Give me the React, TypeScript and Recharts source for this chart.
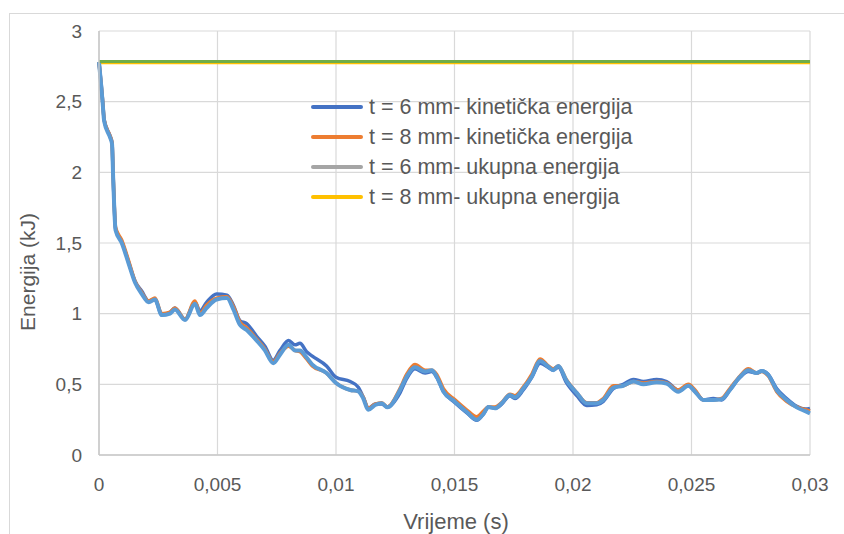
import { LineChart, Line, XAxis, YAxis, CartesianGrid, Label } from "recharts";

// Time (s)
const T = [
  0, 0.0001, 0.00015, 0.00022, 0.00046, 0.00055, 0.0006, 0.0007, 0.00096, 0.00124,
  0.00152, 0.0018, 0.0021, 0.00236, 0.00265, 0.003, 0.0032, 0.00363, 0.00405, 0.00426,
  0.00454, 0.00496, 0.0054, 0.00567, 0.00595, 0.00623, 0.00665, 0.007, 0.00735, 0.00764,
  0.008, 0.00827, 0.00848, 0.00876, 0.009, 0.0096, 0.01, 0.0106, 0.01094, 0.01115,
  0.01136, 0.01165, 0.01193, 0.01217, 0.0127, 0.01298, 0.01333, 0.01376, 0.01404, 0.01425,
  0.01453, 0.01502, 0.01551, 0.01594, 0.01622, 0.01643, 0.01671, 0.01699, 0.01734, 0.01755,
  0.0179, 0.01826, 0.01861, 0.01896, 0.01917, 0.01938, 0.01973, 0.02016, 0.02058, 0.021,
  0.02128, 0.0217, 0.02212, 0.02255, 0.02297, 0.02353, 0.02395, 0.02444, 0.02487, 0.02515,
  0.0255, 0.02592, 0.02627, 0.02662, 0.02705, 0.0274, 0.02775, 0.02796, 0.02824, 0.02859,
  0.02901, 0.02944, 0.0298, 0.03,
];

// t = 6 mm - kinetic energy (kJ)
const K6 = [
  2.78, 2.61, 2.51, 2.37, 2.26, 2.21, 1.96, 1.6, 1.51, 1.37,
  1.23, 1.16, 1.09, 1.1, 0.99, 1.01, 1.04, 0.96, 1.08, 1.02,
  1.08, 1.14, 1.13, 1.06, 0.95, 0.93, 0.84, 0.77, 0.67, 0.74,
  0.81, 0.78, 0.79, 0.73, 0.7, 0.63, 0.55, 0.52, 0.48, 0.41,
  0.33, 0.36, 0.36, 0.34, 0.44, 0.54, 0.61, 0.58, 0.59, 0.55,
  0.45, 0.37, 0.3, 0.245, 0.29, 0.34, 0.33, 0.36, 0.42, 0.4,
  0.46, 0.55, 0.65, 0.62, 0.6, 0.62, 0.51, 0.42, 0.35, 0.355,
  0.38, 0.47, 0.5, 0.535, 0.52, 0.535, 0.52, 0.46, 0.49, 0.45,
  0.39, 0.4, 0.39, 0.46, 0.55, 0.59, 0.58, 0.595, 0.57, 0.47,
  0.4, 0.345, 0.325, 0.33,
];

// t = 8 mm - kinetic energy (kJ)
const K8 = [
  2.78, 2.6, 2.51, 2.37, 2.26, 2.21, 1.97, 1.61, 1.52, 1.38,
  1.23, 1.15, 1.09, 1.11, 1.0, 1.01, 1.04, 0.96, 1.09, 1.0,
  1.06, 1.11, 1.12, 1.05, 0.94, 0.9, 0.82, 0.75, 0.66, 0.72,
  0.77, 0.74, 0.73, 0.68, 0.63, 0.58, 0.51, 0.46, 0.45, 0.41,
  0.33, 0.36, 0.37, 0.34, 0.47, 0.57, 0.64, 0.6, 0.6, 0.57,
  0.47, 0.39, 0.32, 0.27, 0.31, 0.34, 0.34, 0.37, 0.43, 0.42,
  0.48, 0.57, 0.68, 0.63, 0.61, 0.63, 0.53, 0.44, 0.37, 0.37,
  0.4, 0.49, 0.49, 0.52, 0.51, 0.52, 0.51, 0.46, 0.5, 0.46,
  0.39, 0.39, 0.4, 0.47, 0.56, 0.61, 0.58, 0.59, 0.56, 0.45,
  0.38, 0.34, 0.32, 0.31,
];

// unlabelled kinetic series (light blue)
const K6B = [
  2.78, 2.6, 2.5, 2.36, 2.25, 2.2, 1.95, 1.59, 1.5, 1.36,
  1.22, 1.14, 1.08, 1.1, 0.99, 1.0, 1.03, 0.955, 1.07, 0.99,
  1.04, 1.1, 1.11, 1.03, 0.92, 0.885, 0.81, 0.74, 0.65, 0.71,
  0.78, 0.74, 0.74, 0.69, 0.64, 0.58, 0.51, 0.46, 0.45, 0.4,
  0.32, 0.354, 0.366, 0.337, 0.46, 0.554, 0.62, 0.59, 0.6, 0.554,
  0.45, 0.377, 0.306, 0.25, 0.29, 0.34, 0.33, 0.366, 0.425, 0.408,
  0.47, 0.554, 0.665, 0.625, 0.6, 0.63, 0.525, 0.44, 0.366, 0.366,
  0.39, 0.475, 0.49, 0.52, 0.5, 0.515, 0.505, 0.448, 0.49, 0.448,
  0.39, 0.39, 0.394, 0.46, 0.554, 0.6, 0.58, 0.595, 0.566, 0.46,
  0.39, 0.337, 0.31, 0.295,
];

// total energy (flat)
const TOT_T = [0, 0.03];
const TOT6 = [2.78, 2.78];
const TOT8 = [2.775, 2.775];
const TOTB = [2.785, 2.785];

const X_TICKS = [0, 0.005, 0.01, 0.015, 0.02, 0.025, 0.03];
const Y_TICKS = [0, 0.5, 1, 1.5, 2, 2.5, 3];

const LEGEND = [
  { label: "t = 6 mm- kinetička energija", color: "#4472c4" },
  { label: "t = 8 mm- kinetička energija", color: "#ed7d31" },
  { label: "t = 6 mm- ukupna energija", color: "#a5a5a5" },
  { label: "t = 8 mm- ukupna energija", color: "#ffc000" },
];

const TEXT = "#595959";
const FONT = '"Liberation Sans", Arial, sans-serif';

const fmt = (v: number) => String(v).replace(".", ",");

export default function App() {
  const data = T.map((t, i) => ({ t, k6: K6[i], k8: K8[i], k6b: K6B[i] }));
  const totals = TOT_T.map((t, i) => ({ t, tot6: TOT6[i], tot8: TOT8[i], totb: TOTB[i] }));

  return (
    <div
      style={{
        position: "fixed",
        left: 0,
        top: 0,
        width: 844,
        height: 534,
        overflow: "hidden",
        background: "#fff",
        fontFamily: FONT,
      }}
    >
      {/* chart frame, runs off the page on the right and bottom */}
      <div
        style={{
          position: "absolute",
          left: 9,
          top: 13,
          width: 1000,
          height: 1000,
          border: "1px solid #d9d9d9",
        }}
      />
      <div style={{ position: "absolute", left: 0, top: 0 }}>
        <LineChart width={844} height={534} margin={{ top: 31, right: 34, bottom: 0, left: 0 }}>
          <CartesianGrid stroke="#d9d9d9" strokeWidth={1.2} />
          <XAxis
            dataKey="t"
            type="number"
            domain={[0, 0.03]}
            ticks={X_TICKS}
            tickFormatter={fmt}
            height={79}
            tickSize={0}
            tickMargin={23}
            tickLine={false}
            axisLine={{ stroke: "#c8c8c8", strokeWidth: 1.5 }}
            tick={{ fill: TEXT, fontSize: 19, fontFamily: FONT }}
            allowDuplicatedCategory={false}
          >
            <Label
              content={() => (
                <text x={456} y={521} textAnchor="middle" dominantBaseline="central" fill={TEXT} fontSize={22} fontFamily={FONT}>
                  Vrijeme (s)
                </text>
              )}
            />
          </XAxis>
          <YAxis
            type="number"
            domain={[0, 3]}
            ticks={Y_TICKS}
            tickFormatter={fmt}
            width={99}
            tickSize={0}
            tickMargin={17}
            tickLine={false}
            axisLine={{ stroke: "#c8c8c8", strokeWidth: 1.5 }}
            tick={{ fill: TEXT, fontSize: 19, fontFamily: FONT }}
          >
            <Label
              content={() => (
                <text
                  x={27}
                  y={272}
                  transform="rotate(-90 27 272)"
                  textAnchor="middle"
                  dominantBaseline="central"
                  fill={TEXT}
                  fontSize={21}
                  fontFamily={FONT}
                >
                  Energija (kJ)
                </text>
              )}
            />
          </YAxis>
          <Line data={data} type="monotone" dataKey="k6" stroke="#4472c4" strokeWidth={3.5} dot={false} isAnimationActive={false} />
          <Line data={data} type="monotone" dataKey="k8" stroke="#ed7d31" strokeWidth={3.5} dot={false} isAnimationActive={false} />
          <Line data={totals} type="linear" dataKey="tot6" stroke="#a5a5a5" strokeWidth={3} dot={false} isAnimationActive={false} />
          <Line data={totals} type="linear" dataKey="tot8" stroke="#ffc000" strokeWidth={3} dot={false} isAnimationActive={false} />
          <Line data={data} type="monotone" dataKey="k6b" stroke="#5b9bd5" strokeWidth={4} dot={false} isAnimationActive={false} />
          <Line data={totals} type="linear" dataKey="totb" stroke="#70ad47" strokeWidth={3} dot={false} isAnimationActive={false} />
        </LineChart>
      </div>
      {/* legend sits on top of the plot, no background */}
      <div style={{ position: "absolute", left: 311, top: 92 }}>
        {LEGEND.map((item) => (
          <div key={item.label} style={{ display: "flex", alignItems: "center", height: 30 }}>
            <span style={{ display: "inline-block", width: 52, height: 3.5, borderRadius: 2, background: item.color }} />
            <span style={{ marginLeft: 6, color: TEXT, fontSize: 21.5, whiteSpace: "nowrap" }}>{item.label}</span>
          </div>
        ))}
      </div>
    </div>
  );
}
